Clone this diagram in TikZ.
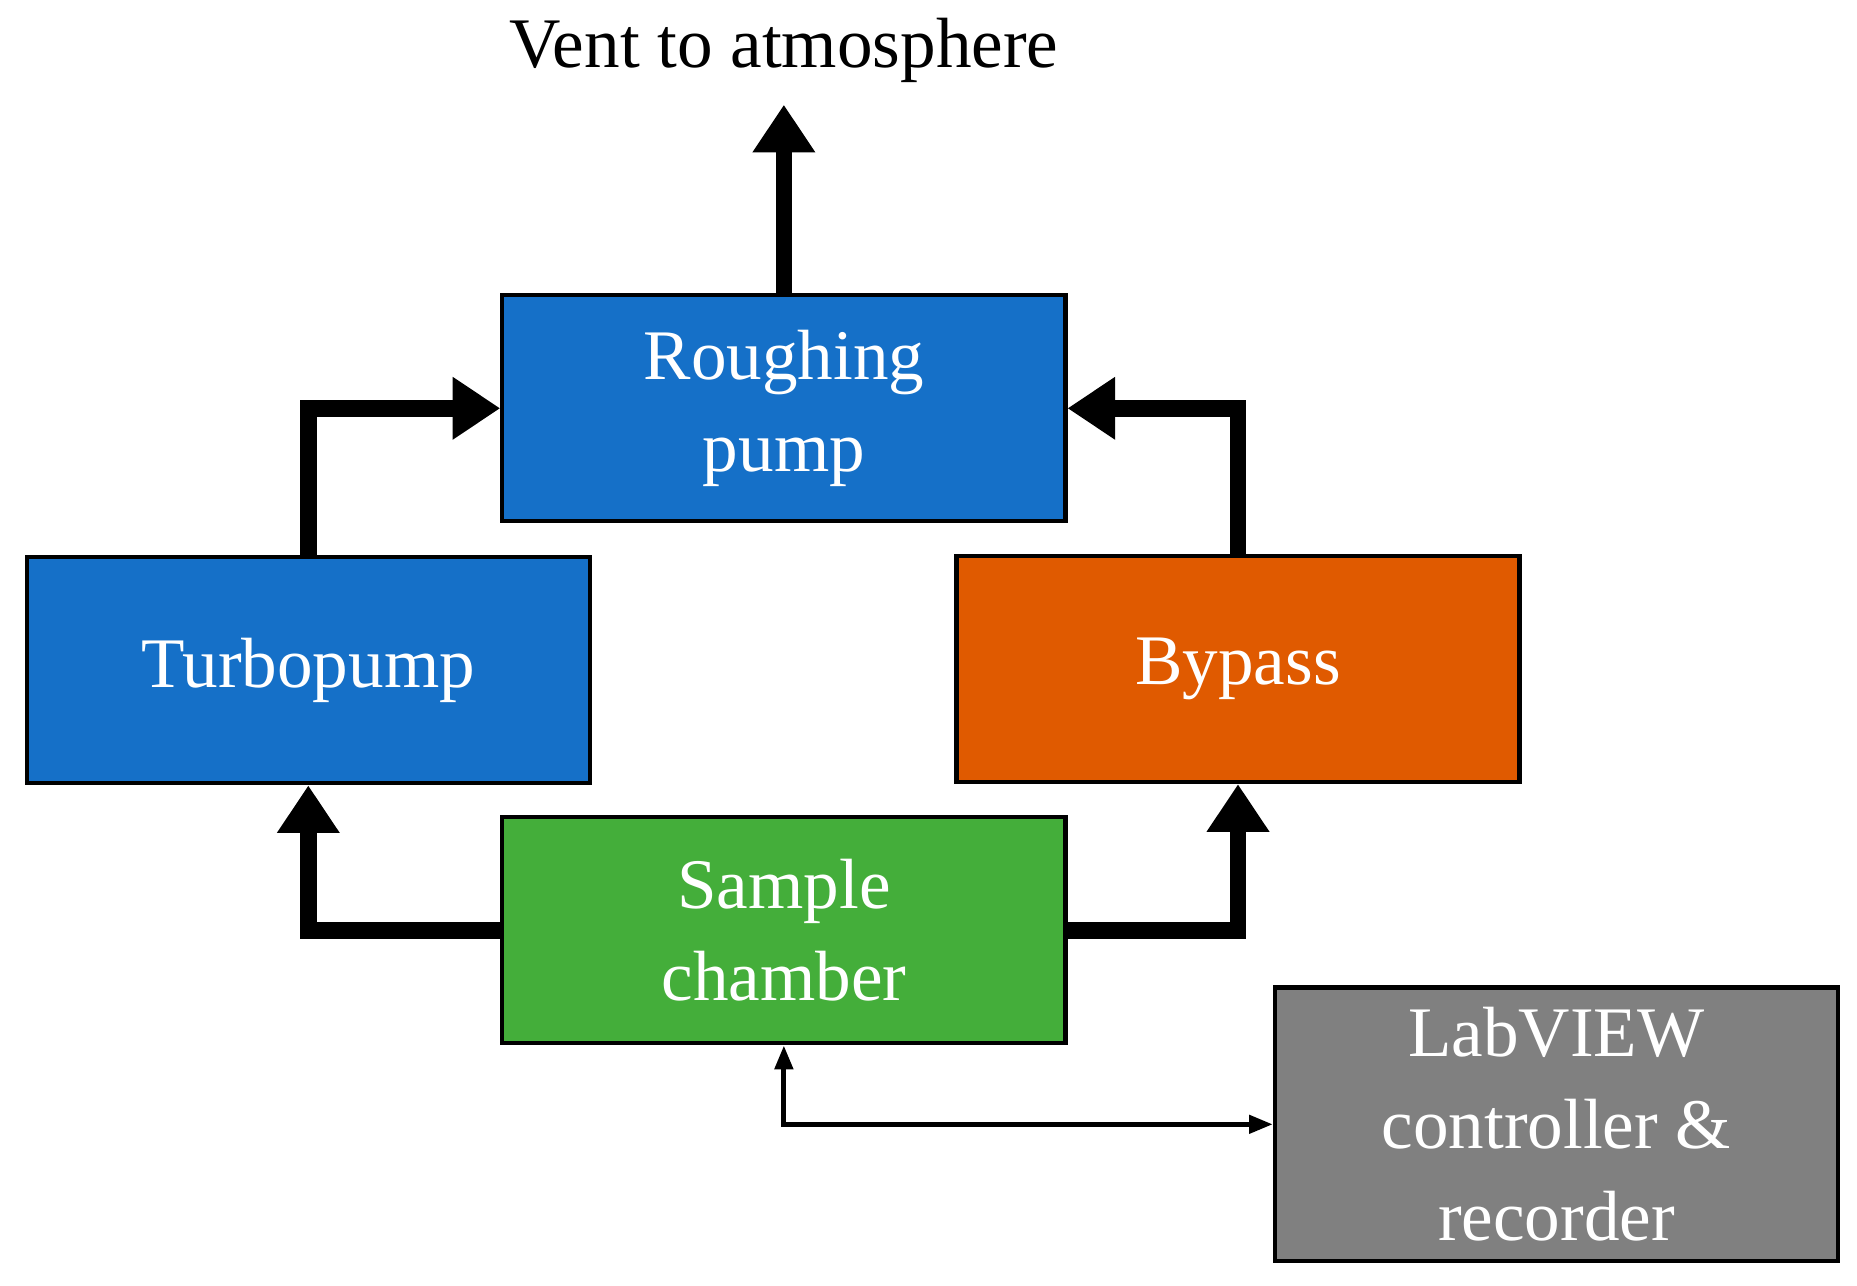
\documentclass[tikz,border=0pt]{standalone}
\usepackage{fontspec}
\setmainfont{Liberation Serif}
\usetikzlibrary{arrows.meta}
\definecolor{pumpblue}{HTML}{1570C8}
\definecolor{bypassorange}{HTML}{E05A00}
\definecolor{chambergreen}{HTML}{44AE3A}
\definecolor{labgray}{HTML}{808080}
\tikzset{
    box/.style={draw=black, line width=1pt, minimum width=4.73cm, minimum height=1.9cm, align=center, text=white, font=\fontsize{17}{22}\selectfont},
    flow/.style={line width=4pt, -{Triangle[width=0.5cm,length=0.4cm]}},
    signal/.style={line width=1.2pt, {Triangle[width=0.15cm,length=0.2cm]}-{Triangle[width=0.15cm,length=0.2cm]}}
}
\begin{document}
\begin{tikzpicture}
        \useasboundingbox (0,0) rectangle (15.6,10.8);

        % boxes
        \node[box, fill=pumpblue] (rough) at (6.585,7.37) {Roughing\\pump};
        \node[box, fill=pumpblue] (turbo) at (2.59,5.17) {Turbopump};
        \node[box, fill=bypassorange] (bypass) at (10.40,5.18) {Bypass};
        \node[box, fill=chambergreen] (chamber) at (6.585,2.985) {Sample\\chamber};
        \node[box, fill=labgray, minimum height=2.3cm] (lab) at (13.075,1.355) {LabVIEW\\controller \&\\recorder};

        \node[font=\fontsize{17}{22}\selectfont] (vent) at (6.585,10.38) {Vent to atmosphere};
        \coordinate (top) at (6.585,9.92);

        % pumping lines
        \draw[flow] (rough.north) -- (top);
        \draw[flow] (turbo.north) |- (rough.west);
        \draw[flow] (bypass.north) |- (rough.east);
        \draw[flow] (chamber.west) -| (turbo.south);
        \draw[flow] (chamber.east) -| (bypass.south);

        % control line
        \draw[signal] (chamber.south) |- (lab.west);
    \end{tikzpicture}
\end{document}
